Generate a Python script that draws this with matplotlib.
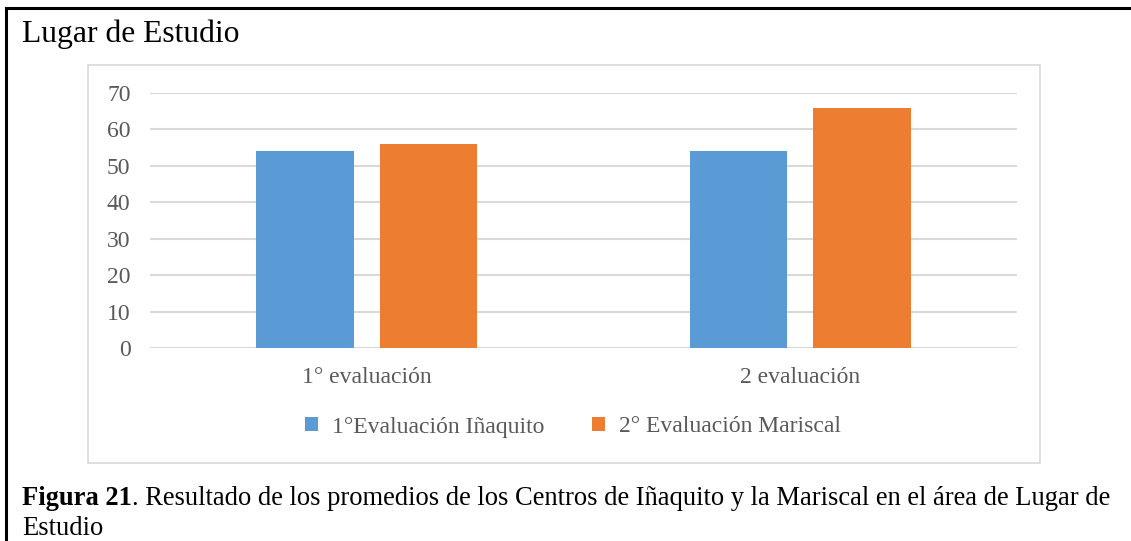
import matplotlib.pyplot as plt
from matplotlib.lines import Line2D
from matplotlib.patches import Rectangle
import numpy as np

# Data
categories = ["1° evaluación", "2 evaluación"]
series_names = ["1°Evaluación Iñaquito", "2° Evaluación Mariscal"]
inaquito = [54, 54]
mariscal = [56, 66]
yticks = [0, 10, 20, 30, 40, 50, 60, 70]

title = "Lugar de Estudio"
caption_bold = "Figura 21"
caption_rest = (". Resultado de los promedios de los Centros de Iñaquito y la Mariscal "
                "en el área de Lugar de")
caption_line2 = "Estudio"

W, H = 1131, 541
plt.rcParams['font.family'] = ['Liberation Serif', 'DejaVu Serif']

fig = plt.figure(figsize=(W / 100, H / 100), dpi=100)
fig.patch.set_facecolor('white')


def fx(px):
    return px / W


def fy(py):
    return 1 - py / H


# outer frame: top and left black lines only
fig.add_artist(Line2D([fx(6), 1], [fy(8), fy(8)], color='black', lw=2.2))
fig.add_artist(Line2D([fx(6), fx(6)], [fy(8), 0], color='black', lw=2.2))

# grey chart box
fig.add_artist(Rectangle((fx(88), fy(463)), fx(1040) - fx(88), fy(65) - fy(463),
                         fill=False, edgecolor='#d9d9d9', lw=1.2))

fig.text(fx(22), fy(42), title, fontsize=22.8, va='baseline', ha='left', color='black')

# plot area
ax = fig.add_axes([fx(150), fy(348), fx(1017) - fx(150), fy(93) - fy(348)])
x = np.arange(len(categories))
w = 0.225
off = 0.1425
b1 = ax.bar(x - off, inaquito, w, color='#5b9bd5', zorder=3)
b2 = ax.bar(x + off, mariscal, w, color='#ed7d31', zorder=3)

ax.set_xlim(-0.5, len(categories) - 0.5)
ax.set_ylim(0, 70)
ax.set_yticks(yticks)
ax.yaxis.grid(True, color='#d9d9d9', lw=1.5, zorder=0)
ax.set_axisbelow(True)
for s in ax.spines.values():
    s.set_visible(False)
ax.set_xticks(x)
ax.set_xticklabels(categories)
ax.tick_params(axis='both', length=0, labelsize=17, colors='#595959')
ax.tick_params(axis='x', pad=14)
ax.tick_params(axis='y', pad=14)

fig.legend([b1, b2], series_names, loc='center', bbox_to_anchor=(fx(573), fy(427)),
           ncol=2, frameon=False, fontsize=17, labelcolor='#595959',
           handlelength=0.55, handleheight=0.55, handletextpad=0.6, columnspacing=2.0)

# caption
fs_cap = 19.1
t1 = fig.text(fx(22), fy(505), caption_bold, fontsize=fs_cap, fontweight='bold',
              va='baseline', ha='left')
fig.canvas.draw()
bb = t1.get_window_extent()
fig.text(bb.x1 / W, fy(505), caption_rest, fontsize=fs_cap, va='baseline', ha='left')
fig.text(fx(22), fy(535), caption_line2, fontsize=fs_cap, va='baseline', ha='left')

fig.savefig('out.png', dpi=100)
